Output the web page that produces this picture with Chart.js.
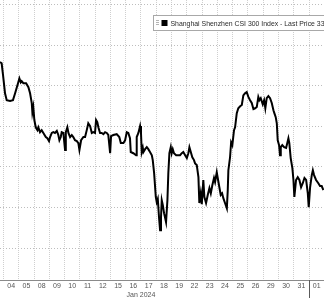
<!DOCTYPE html>
<html>
<head>
<meta charset="utf-8">
<script src="https://cdn.jsdelivr.net/npm/chart.js@4.4.1/dist/chart.umd.min.js"></script>
<style>
  html, body { margin: 0; padding: 0; background: #fff; }
  #wrap { width: 324px; height: 298px; position: relative; }
</style>
</head>
<body>
<div id="wrap"><canvas id="chart"></canvas></div>
<script>
// trading sessions shown on the axis (Jan 2024 -> 01 Feb)
const dayLabels = ['04', '05', '08', '09', '10', '11', '12', '15', '16', '17', '18', '19', '22', '23', '24', '25', '26', '29', '30', '31', '01'];
const monthLabel = 'Jan 2024';
const monthLabelAt = 8.5;
const monthBreakAt = 19.5;
const seriesName = 'Shanghai Shenzhen CSI 300 Index - Last Price';

// intraday points: position in sessions (0 = 04 Jan) and index level
const times = [
  -0.73, -0.62, -0.53, -0.40, -0.29, -0.07, 0.12, 0.26, 0.45, 0.54,
  0.63, 0.69, 0.80, 0.98, 1.13, 1.24, 1.35, 1.39, 1.45, 1.52,
  1.61, 1.72, 1.78, 1.89, 2.00, 2.11, 2.27, 2.37, 2.48, 2.55,
  2.66, 2.76, 2.87, 2.99, 3.09, 3.16, 3.25, 3.31, 3.42, 3.48,
  3.53, 3.58, 3.68, 3.75, 3.86, 3.97, 4.07, 4.18, 4.30, 4.40,
  4.47, 4.58, 4.73, 4.84, 4.95, 5.05, 5.17, 5.28, 5.38, 5.49,
  5.56, 5.64, 5.71, 5.82, 5.93, 6.04, 6.15, 6.26, 6.36, 6.48,
  6.54, 6.69, 6.91, 7.08, 7.18, 7.35, 7.46, 7.57, 7.67, 7.78,
  7.83, 8.00, 8.18, 8.22, 8.33, 8.44, 8.50, 8.55, 8.62, 8.66,
  8.77, 8.88, 8.98, 9.09, 9.21, 9.27, 9.36, 9.47, 9.53, 9.60,
  9.68, 9.75, 9.81, 9.86, 9.93, 10.01, 10.14, 10.23, 10.29, 10.36,
  10.45, 10.51, 10.58, 10.66, 10.80, 10.95, 11.06, 11.17, 11.27, 11.39,
  11.50, 11.60, 11.67, 11.76, 11.86, 11.97, 12.04, 12.15, 12.26, 12.32,
  12.41, 12.48, 12.58, 12.65, 12.76, 12.87, 12.98, 13.07, 13.17, 13.28,
  13.35, 13.46, 13.57, 13.63, 13.72, 13.81, 13.89, 14.00, 14.12, 14.18,
  14.22, 14.33, 14.40, 14.48, 14.59, 14.66, 14.77, 14.87, 14.99, 15.10,
  15.20, 15.31, 15.42, 15.53, 15.64, 15.75, 15.86, 15.97, 16.08, 16.18,
  16.25, 16.34, 16.47, 16.56, 16.64, 16.73, 16.84, 16.95, 17.06, 17.17,
  17.23, 17.32, 17.39, 17.45, 17.54, 17.60, 17.65, 17.75, 17.87, 18.00,
  18.15, 18.21, 18.30, 18.41, 18.48, 18.54, 18.65, 18.76, 18.87, 18.98,
  19.09, 19.20, 19.31, 19.42, 19.48, 19.57, 19.68, 19.75, 19.83, 19.96,
  20.11, 20.22, 20.33, 20.44
];
const prices = [
  3345.9, 3345.6, 3342.7, 3338.2, 3336.5, 3336.3, 3336.5, 3338.2, 3340.7, 3341.9,
  3340.9, 3341.2, 3340.7, 3340.7, 3339.7, 3338.2, 3335.8, 3333.5, 3334.8, 3331.6,
  3329.8, 3329.1, 3329.8, 3328.6, 3329.1, 3328.4, 3327.4, 3327.1, 3326.4, 3327.4,
  3328.4, 3328.6, 3328.4, 3328.9, 3327.9, 3326.6, 3327.4, 3328.6, 3328.4, 3326.1,
  3324.2, 3328.6, 3329.8, 3328.4, 3327.4, 3327.9, 3327.4, 3326.6, 3326.4, 3325.9,
  3324.2, 3326.6, 3327.4, 3327.4, 3329.1, 3330.8, 3330.1, 3328.4, 3328.6, 3328.4,
  3331.6, 3331.1, 3329.8, 3328.4, 3328.4, 3328.1, 3328.6, 3328.4, 3327.9, 3323.4,
  3327.6, 3327.9, 3328.1, 3327.4, 3325.9, 3325.9, 3326.6, 3328.6, 3328.4, 3327.1,
  3323.7, 3323.4, 3322.9, 3327.4, 3328.4, 3330.1, 3328.4, 3323.7, 3324.7, 3323.7,
  3324.4, 3324.9, 3324.4, 3323.7, 3322.9, 3321.7, 3318.5, 3312.6, 3311.3, 3312.1,
  3307.6, 3304.4, 3307.6, 3311.8, 3310.6, 3308.6, 3306.4, 3311.8, 3318.5, 3323.4,
  3324.9, 3323.4, 3324.4, 3323.4, 3322.9, 3322.9, 3322.9, 3323.4, 3323.7, 3322.9,
  3322.2, 3323.4, 3324.9, 3323.7, 3322.4, 3321.7, 3320.9, 3320.5, 3317.5, 3311.1,
  3313.5, 3310.8, 3316.8, 3312.6, 3311.1, 3313.1, 3314.8, 3313.5, 3315.5, 3317.3,
  3316.3, 3318.7, 3316.3, 3315.0, 3313.1, 3313.5, 3312.3, 3311.1, 3309.8, 3314.3,
  3319.2, 3322.4, 3326.1, 3325.4, 3329.1, 3329.8, 3333.3, 3334.5, 3335.0, 3335.3,
  3337.7, 3338.2, 3338.5, 3337.3, 3336.5, 3335.8, 3334.3, 3334.5, 3334.8, 3337.3,
  3336.5, 3337.0, 3335.5, 3336.5, 3334.5, 3337.0, 3337.5, 3337.0, 3335.8, 3334.0,
  3333.3, 3332.3, 3330.8, 3326.6, 3325.4, 3322.9, 3324.9, 3325.4, 3324.9, 3324.7,
  3327.1, 3325.9, 3322.2, 3319.7, 3316.8, 3312.6, 3316.8, 3317.5, 3316.8, 3315.0,
  3316.0, 3317.3, 3316.8, 3313.5, 3310.1, 3315.0, 3318.0, 3319.2, 3318.0, 3316.8,
  3316.0, 3315.3, 3315.3, 3314.3
];
const priceTicks = [3300, 3310, 3320, 3330, 3340, 3350, 3360];

const xMin = -0.729;
const xMax = 20.48;
const yMin = 3292.1;
const yMax = 3361.23;
const tickFont = { family: 'Liberation Sans', size: 7 };

// legend box + the month separator under the axis
const overlay = {
  id: 'overlay',
  afterDraw(chart) {
    const { ctx, chartArea } = chart;
    const sepX = Math.round(chart.scales.x.getPixelForValue(monthBreakAt)) + 0.5;
    ctx.save();
    ctx.strokeStyle = '#5a5a5a';
    ctx.lineWidth = 1;
    ctx.beginPath();
    ctx.moveTo(sepX, chartArea.bottom);
    ctx.lineTo(sepX, chart.height);
    ctx.stroke();

    ctx.fillStyle = '#fff';
    ctx.fillRect(153.5, 15.5, 200, 15);
    ctx.strokeStyle = '#a8a8a8';
    ctx.strokeRect(153.5, 15.5, 200, 15);

    ctx.strokeStyle = '#b4b4b4';
    ctx.beginPath();
    [20.5, 22.5, 24.5].forEach((y) => { ctx.moveTo(156, y); ctx.lineTo(159, y); });
    ctx.stroke();

    ctx.fillStyle = '#000';
    ctx.fillRect(161.5, 20, 6, 6);

    const last = prices[prices.length - 1].toFixed(2);
    ctx.font = '6.9px "Liberation Sans"';
    ctx.fillStyle = '#2a2a2a';
    ctx.textBaseline = 'alphabetic';
    ctx.fillText(`${seriesName} ${last}`, 170.5, 25.8);
    ctx.restore();
  },
};

new Chart(document.getElementById('chart'), {
  type: 'line',
  data: {
    datasets: [
      {
        label: seriesName,
        data: times.map((t, i) => ({ x: t, y: prices[i] })),
        borderColor: '#000',
        borderWidth: 2,
        pointRadius: 0,
        tension: 0,
        xAxisID: 'x',
        yAxisID: 'y',
      },
    ],
  },
  options: {
    responsive: true,
    maintainAspectRatio: false,
    animation: false,
    layout: { padding: 0 },
    plugins: {
      legend: { display: false },
      tooltip: { enabled: false },
    },
    scales: {
      x: {
        type: 'linear',
        position: 'bottom',
        min: xMin,
        max: xMax,
        afterBuildTicks: (scale) => {
          const ticks = dayLabels.map((_, i) => ({ value: i }));
          ticks.push({ value: monthLabelAt });
          scale.ticks = ticks.sort((a, b) => a.value - b.value);
        },
        afterFit: (scale) => { scale.height = 18; },
        grid: { display: false, drawTicks: false },
        border: { display: true, color: '#8a8a8a', width: 1 },
        ticks: {
          autoSkip: false,
          maxRotation: 0,
          minRotation: 0,
          padding: 2,
          color: '#555',
          font: tickFont,
          callback: (value) => (value === monthLabelAt ? ['', monthLabel] : dayLabels[value]),
        },
      },
      xGrid: {
        type: 'linear',
        position: 'top',
        min: xMin,
        max: xMax,
        afterBuildTicks: (scale) => {
          scale.ticks = dayLabels.map((_, i) => ({ value: i - 0.5 }));
        },
        afterFit: (scale) => { scale.height = 0; },
        ticks: { display: false },
        grid: { color: '#cfcfcf', drawTicks: false },
        border: { display: false, dash: [1, 1] },
      },
      y: {
        position: 'left',
        min: yMin,
        max: yMax,
        afterBuildTicks: (scale) => {
          scale.ticks = priceTicks.map((v) => ({ value: v }));
        },
        afterFit: (scale) => { scale.width = 0; },
        ticks: { display: false },
        grid: { color: '#bdbdbd', drawTicks: false },
        border: { display: false, dash: [1, 2] },
      },
    },
  },
  plugins: [overlay],
});
</script>
</body>
</html>
